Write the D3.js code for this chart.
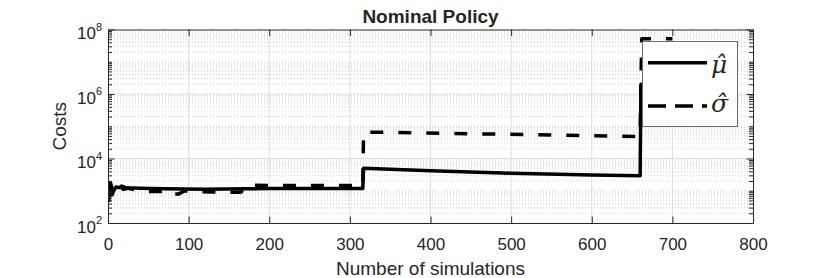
<!DOCTYPE html>
<html>
<head>
<meta charset="utf-8">
<script src="https://cdn.jsdelivr.net/npm/d3@7"></script>
<style>
    body { margin: 0; background: #fff; }
    text { font-family: "Liberation Sans", Arial, Helvetica, sans-serif; fill: #262626; }
</style>
</head>
<body>
<svg id="chart" width="830" height="278"></svg>
<script>
// running mean of the cost, sampled at these simulation counts
const muSims = [1, 2, 3, 4, 5, 7, 10, 14, 17, 22, 40, 70, 120, 170, 200, 250, 316, 317, 400, 500, 600, 660, 661, 700];
const muCost = [450, 1700, 1300, 900, 750, 1000, 1300, 1250, 1400, 1250, 1200, 1150, 1120, 1150, 1180, 1170, 1170,
                5000, 4200, 3500, 3100, 2900, 2000000, 1900000];

// running standard deviation of the cost
const sigmaSims = [2, 3, 6, 10, 13, 18, 25, 40, 50, 65, 75, 80, 88, 95, 110, 130, 145, 165, 172, 200, 250, 316,
                   317, 465, 660, 662, 700];
const sigmaCost = [1400, 1800, 1000, 650, 700, 1100, 1200, 1000, 950, 950, 1050, 800, 800, 1000, 950, 920, 900, 900,
                   1500, 1450, 1450, 1450, 66000, 58000, 48000, 52000000, 52000000];

// axis ticks and labels
const xTicks = [0, 100, 200, 300, 400, 500, 600, 700, 800];
const yTicks = [1e2, 1e4, 1e6, 1e8];
const legendSymbols = ["\u03bc\u0302", "\u03c3\u0302"];

const chartTitle = "Nominal Policy";
const xLabel = "Number of simulations";
const yLabel = "Costs";

function drawChart() {
    let svg = d3.select("#chart");
    let plot = { left: 108, right: 753, top: 29.5, bottom: 223 };
    let axisColor = "#262626";

    let xScale = d3.scaleLinear()
                    .domain([0, 800])
                    .range([plot.left, plot.right]);

    let yScale = d3.scaleLog()
                    .domain([1e2, 1e8])
                    .range([plot.bottom, plot.top]);

    // minor positions of the log axis: 2..9 of each decade plus odd decades
    let yMinor = [];
    for (let k = 2; k < 8; k++) {
        for (let m = 1; m < 10; m++) {
            let v = m * Math.pow(10, k);
            if (!yTicks.includes(v)) yMinor.push(v);
        }
    }

    // minor grid (dotted)
    svg.append("g")
        .selectAll("line")
        .data(yMinor)
        .join("line")
            .attr("x1", plot.left)
            .attr("x2", plot.right)
            .attr("y1", d => yScale(d))
            .attr("y2", d => yScale(d))
            .attr("stroke", "#c6c6c6")
            .attr("stroke-width", 0.8)
            .attr("stroke-dasharray", "1,2");

    // major grid
    svg.append("g")
        .selectAll("line")
        .data(xTicks.slice(1, -1))
        .join("line")
            .attr("x1", d => xScale(d))
            .attr("x2", d => xScale(d))
            .attr("y1", plot.top)
            .attr("y2", plot.bottom)
            .attr("stroke", "#dedede")
            .attr("stroke-width", 1);

    svg.append("g")
        .selectAll("line")
        .data(yTicks.slice(1, -1))
        .join("line")
            .attr("x1", plot.left)
            .attr("x2", plot.right)
            .attr("y1", d => yScale(d))
            .attr("y2", d => yScale(d))
            .attr("stroke", "#dedede")
            .attr("stroke-width", 1);

    // clip the series to the axes box
    svg.append("clipPath")
        .attr("id", "plot-clip")
        .append("rect")
            .attr("x", plot.left)
            .attr("y", plot.top)
            .attr("width", plot.right - plot.left)
            .attr("height", plot.bottom - plot.top);

    let line = d3.line()
                    .x(d => xScale(d[0]))
                    .y(d => yScale(d[1]));

    let series = svg.append("g").attr("clip-path", "url(#plot-clip)");

    series.append("path")
        .datum(sigmaSims.map((n, i) => [n, sigmaCost[i]]))
        .attr("d", line)
        .attr("fill", "none")
        .attr("stroke", "#000")
        .attr("stroke-width", 3.5)
        .attr("stroke-linejoin", "round")
        .attr("stroke-dasharray", "13,15");

    series.append("path")
        .datum(muSims.map((n, i) => [n, muCost[i]]))
        .attr("d", line)
        .attr("fill", "none")
        .attr("stroke", "#000")
        .attr("stroke-width", 3.5)
        .attr("stroke-linejoin", "round");

    // axes on all four sides, ticks pointing inward
    let styleAxis = g => {
        g.attr("font-family", null).attr("font-size", null);
        g.selectAll("path, line").attr("stroke", axisColor);
        g.selectAll("text").attr("fill", axisColor).style("font-size", "17px");
    };

    svg.append("g")
        .attr("transform", `translate(0,${plot.bottom})`)
        .call(d3.axisBottom(xScale).tickValues(xTicks).tickSizeInner(-6.5).tickSizeOuter(0).tickPadding(14.7))
        .call(styleAxis);

    svg.append("g")
        .attr("transform", `translate(0,${plot.top})`)
        .call(d3.axisTop(xScale).tickValues(xTicks).tickSizeInner(-6.5).tickSizeOuter(0).tickFormat(""))
        .call(styleAxis);

    svg.append("g")
        .attr("transform", `translate(${plot.left},0)`)
        .call(d3.axisLeft(yScale).tickValues(yTicks).tickSizeInner(-6.5).tickSizeOuter(0).tickFormat(""))
        .call(styleAxis);

    svg.append("g")
        .attr("transform", `translate(${plot.left},0)`)
        .call(d3.axisLeft(yScale).tickValues(yMinor).tickSizeInner(-4).tickSizeOuter(0).tickFormat(""))
        .call(styleAxis);

    svg.append("g")
        .attr("transform", `translate(${plot.right},0)`)
        .call(d3.axisRight(yScale).tickValues(yTicks).tickSizeInner(-6.5).tickSizeOuter(0).tickFormat(""))
        .call(styleAxis);

    svg.append("g")
        .attr("transform", `translate(${plot.right},0)`)
        .call(d3.axisRight(yScale).tickValues(yMinor).tickSizeInner(-4).tickSizeOuter(0).tickFormat(""))
        .call(styleAxis);

    // y tick labels as 10 with a superscript exponent
    svg.append("g")
        .selectAll("text")
        .data(yTicks)
        .join("text")
            .attr("x", plot.left - 6)
            .attr("y", d => yScale(d) + 9.7)
            .attr("text-anchor", "end")
            .style("font-size", "17px")
            .each(function(d) {
                let t = d3.select(this);
                t.append("tspan").text("10");
                t.append("tspan")
                    .attr("dy", -8.4)
                    .style("font-size", "11px")
                    .text(Math.round(Math.log10(d)));
            });

    // titles
    svg.append("text")
        .attr("x", (plot.left + plot.right) / 2)
        .attr("y", 22.7)
        .attr("text-anchor", "middle")
        .style("font-size", "19px")
        .style("font-weight", "bold")
        .attr("fill", "#000")
        .text(chartTitle);

    svg.append("text")
        .attr("x", (plot.left + plot.right) / 2)
        .attr("y", 274.5)
        .attr("text-anchor", "middle")
        .style("font-size", "19px")
        .text(xLabel);

    svg.append("text")
        .attr("transform", `translate(66,${(plot.top + plot.bottom) / 2}) rotate(-90)`)
        .attr("text-anchor", "middle")
        .style("font-size", "19px")
        .text(yLabel);

    // legend
    let legend = svg.append("g");

    legend.append("rect")
        .attr("x", 642.5)
        .attr("y", 41.5)
        .attr("width", 95)
        .attr("height", 85)
        .attr("fill", "#fff")
        .attr("stroke", "#6b6b6b")
        .attr("stroke-width", 1);

    let rows = [62.7, 106];

    legend.selectAll(".legend-line")
        .data(legendSymbols)
        .join("line")
            .classed("legend-line", true)
            .attr("x1", 648)
            .attr("x2", 707)
            .attr("y1", (d, i) => rows[i])
            .attr("y2", (d, i) => rows[i])
            .attr("stroke", "#000")
            .attr("stroke-width", 3.5)
            .attr("stroke-dasharray", (d, i) => i === 1 ? "18,9" : null);

    let baselines = [73.3, 111.7];

    legend.selectAll(".legend-symbol")
        .data(legendSymbols)
        .join("text")
            .classed("legend-symbol", true)
            .attr("x", 711)
            .attr("y", (d, i) => baselines[i])
            .style("font-family", "'DejaVu Serif', 'Liberation Serif', serif")
            .style("font-style", "italic")
            .style("font-size", "25px")
            .attr("fill", "#000")
            .text(d => d);
}

drawChart();
</script>
</body>
</html>
